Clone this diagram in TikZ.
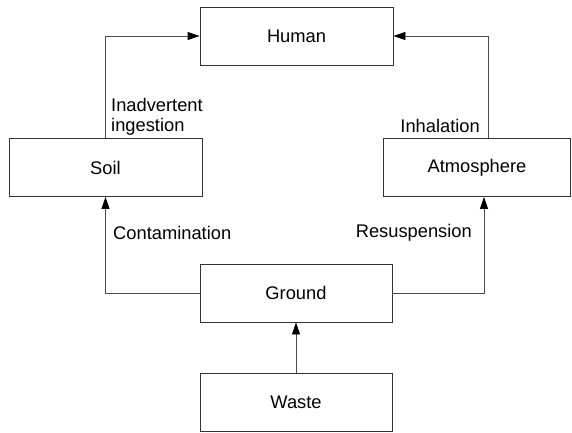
\documentclass[tikz,border=0pt]{standalone}
\usepackage{fontspec}
\setmainfont{Liberation Sans}
\usetikzlibrary{arrows.meta}
\begin{document}
\begin{tikzpicture}[x=1pt,y=-1pt,
  every node/.style={font=\fontsize{18.3}{20}\selectfont},
  box/.style={draw=black!80,line width=0.9pt,minimum width=193pt,minimum height=58pt,inner sep=0pt},
  lbl/.style={inner sep=0pt,align=left},
  flow/.style={draw=black!70,line width=0.9pt,-{Triangle[length=12pt,width=8pt,black]}}
  ]
    \useasboundingbox (0,0) rectangle (572,432);

    \node[box] (human) at (296.5,36) {Human};
    \node[box] (soil) at (105.5,167.5) {Soil};
    \node[box,minimum width=187pt] (atmo) at (477,167.5) {Atmosphere};
    \node[box,minimum width=192pt] (ground) at (296,293) {Ground};
    \node[box,minimum width=192pt] (waste) at (296,402) {Waste};

    \draw[flow] (waste) -- (ground);
    \draw[flow] (ground.west) -| (soil.south);
    \draw[flow] (ground.east) -| ([xshift=7pt]atmo.south);
    \draw[flow] (soil.north) |- (human.west);
    \draw[flow] ([xshift=11pt]atmo.north) |- (human.east);

    \node[lbl,anchor=base west] (contam) at (113,239) {Contamination};
    \node[lbl,anchor=base east] (resusp) at (472,237) {Resuspension};
    \node[lbl,anchor=base west] (ingest) at (111,131) {Inadvertent\\ingestion};
    \node[lbl,anchor=base east] (inhal) at (480,132) {Inhalation};
\end{tikzpicture}
\end{document}
